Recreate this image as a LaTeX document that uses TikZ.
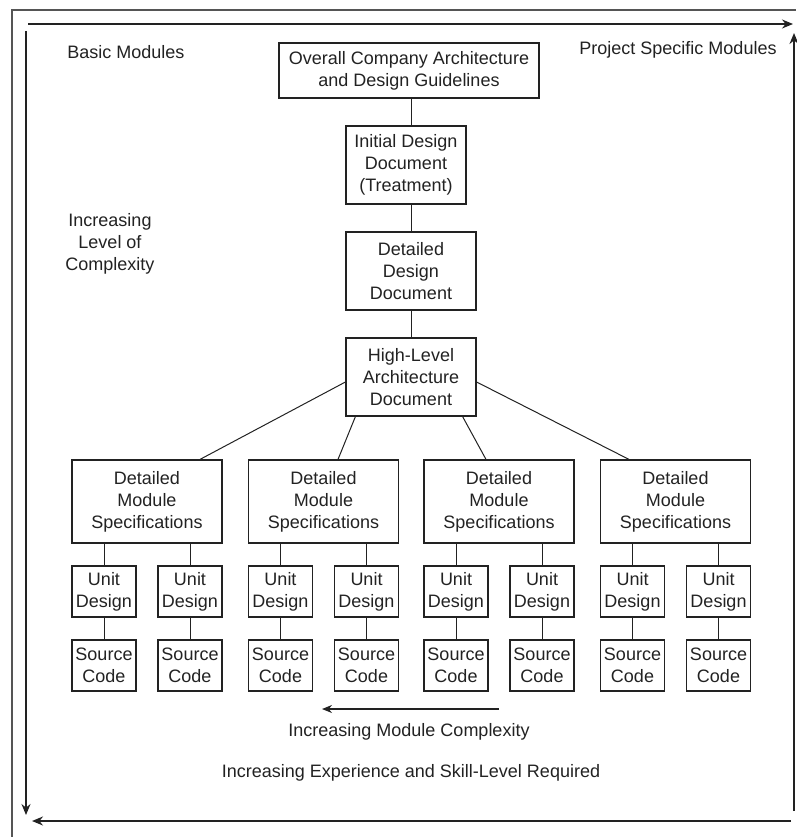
\documentclass[tikz,border=0pt]{standalone}
\usepackage{fontspec}
\setmainfont{Liberation Sans}
\usetikzlibrary{arrows.meta}
\definecolor{ink}{HTML}{222222}
\definecolor{framec}{HTML}{555555}
\tikzset{
  box/.style={draw=ink, line width=1.2pt, inner sep=0pt, align=center, text=ink,
    font=\fontsize{18}{22}\selectfont},
  lbl/.style={inner sep=0pt, align=center, text=ink, font=\fontsize{18}{22}\selectfont},
  link/.style={draw=ink, line width=1pt},
  flow/.style={draw=ink, line width=1.5pt, -{Stealth[length=11pt,width=9pt]}},
}
\begin{document}
\begin{tikzpicture}[x=1pt,y=-1pt]
\useasboundingbox (0,0) rectangle (796,837);
% outer frame (partly cut)
\draw[framec, line width=1.5pt] (12,837) -- (12,10) -- (796,10);
% cycle arrows
\coordinate (tl1) at (28,24);  \coordinate (tr1) at (793,24);
\coordinate (tr2) at (794,811); \coordinate (tr3) at (794,33);
\coordinate (br1) at (791,821); \coordinate (bl1) at (32,821);
\coordinate (tl2) at (26,31);  \coordinate (bl2) at (26,815);
\draw[flow] (tl1) -- (tr1);
\draw[flow] (tr2) -- (tr3);
\draw[flow] (br1) -- (bl1);
\draw[flow] (tl2) -- (bl2);
% labels
\node[lbl] (basic) at (126,52) {Basic Modules};
\node[lbl] (proj) at (678,50) {Project Specific Modules};
\node[lbl] (lvl) at (110,244) {Increasing\\Level of\\Complexity};
\node[lbl] (modc) at (409,732) {Increasing Module Complexity};
\node[lbl] (exp) at (411,773) {Increasing Experience and Skill-Level Required};
\coordinate (ma) at (499,709); \coordinate (mb) at (322,709);
\draw[draw=ink, line width=1.3pt, -{Stealth[length=10pt,width=8pt]}] (ma) -- (mb);
% top chain
\node[box, minimum width=260pt, minimum height=55pt] (top) at (409,70.5) {Overall Company Architecture\\and Design Guidelines};
\node[box, minimum width=120pt, minimum height=78pt] (init) at (406,165) {Initial Design\\Document\\(Treatment)};
\node[box, minimum width=130pt, minimum height=78pt] (dd) at (411,271) {Detailed\\Design\\Document};
\node[box, minimum width=130pt, minimum height=78pt] (hl) at (411,377) {High-Level\\Architecture\\Document};
\draw[link] (dd.north |- top.south) -- (dd.north |- init.north);
\draw[link] (dd.north |- init.south) -- (dd.north);
\draw[link] (dd.south) -- (hl.north);
% module specs
\foreach \i/\x in {1/147,2/323.5,3/499,4/675.5}{
  \node[box, minimum width=150pt, minimum height=83pt] (dms\i) at (\x,501.5) {Detailed\\Module\\Specifications};
  \node[box, minimum width=64pt, minimum height=51pt] (uda\i) at (\x-43,591.5) {Unit\\Design};
  \node[box, minimum width=64pt, minimum height=51pt] (udb\i) at (\x+43,591.5) {Unit\\Design};
  \node[box, minimum width=64pt, minimum height=51pt] (sca\i) at (\x-43,665.5) {Source\\Code};
  \node[box, minimum width=64pt, minimum height=51pt] (scb\i) at (\x+43,665.5) {Source\\Code};
  \draw[link] (dms\i.south -| uda\i.north) -- (uda\i.north);
  \draw[link] (dms\i.south -| udb\i.north) -- (udb\i.north);
  \draw[link] (uda\i.south) -- (sca\i.north);
  \draw[link] (udb\i.south) -- (scb\i.north);
}
% fan-out from high-level architecture
\draw[link] ([yshift=-5pt]hl.west) -- ([xshift=53pt]dms1.north);
\draw[link] ([xshift=10pt]hl.south west) -- ([xshift=14.5pt]dms2.north);
\draw[link] ([xshift=-14pt]hl.south east) -- ([xshift=-13pt]dms3.north);
\draw[link] ([yshift=-5pt]hl.east) -- ([xshift=-46.5pt]dms4.north);
\end{tikzpicture}
\end{document}
